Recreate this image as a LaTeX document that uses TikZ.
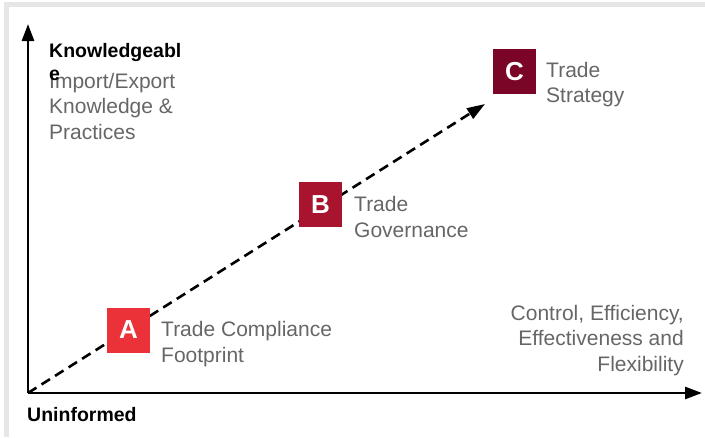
\documentclass[tikz,border=0pt]{standalone}
\usepackage{fontspec}
\setmainfont{Liberation Sans}
\usetikzlibrary{arrows.meta}

\definecolor{gradeA}{HTML}{EA3238}
\definecolor{gradeB}{HTML}{A8142E}
\definecolor{gradeC}{HTML}{7A0527}
\definecolor{noteGray}{HTML}{666666}
\definecolor{frameGray}{HTML}{E6E6E6}

\tikzset{
  axis/.style={line width=2.6pt, -{Triangle[length=17pt,width=12pt]}},
  trend/.style={line width=2.6pt, dash pattern=on 10pt off 6pt, -{Triangle[length=18pt,width=12pt]}},
  grade/.style={minimum width=43pt, minimum height=45pt, inner sep=0pt, text=white,
    font=\fontsize{26}{26}\selectfont\bfseries},
  note/.style={text=noteGray, inner sep=0pt, align=left, font=\fontsize{21}{25.5}\selectfont},
  axislabel/.style={inner sep=0pt, align=left, font=\fontsize{19.5}{22.5}\selectfont\bfseries},
  frameline/.style={draw=frameGray, line width=5pt}
}

\begin{document}
\begin{tikzpicture}[x=1pt,y=-1pt]
    \useasboundingbox (0,0) rectangle (705,437);
    \draw[frameline] (6.5,437) |- (705,4.5);

    \coordinate (Origin) at (28,393);
    \coordinate (YEnd) at (28,24);
    \coordinate (XEnd) at (702,393);
    \coordinate (TrendEnd) at (485,104);

    \path [axis] (Origin) edge (YEnd);
    \path [axis] (Origin) edge (XEnd);
    \path [trend] (Origin) edge (TrendEnd);

    \node[grade, fill=gradeA] (GradeA) at (128.5,330) {A};
    \node[grade, fill=gradeB] (GradeB) at (320.5,204.5) {B};
    \node[grade, fill=gradeC] (GradeC) at (514.5,71.5) {C};

    % base anchor sits on the last line
    \node[note, anchor=base west] (Footprint) at (161,362.2) {Trade Compliance\\Footprint};
    \node[note, anchor=base west] (Governance) at (354,237.2) {Trade\\Governance};
    \node[note, anchor=base west] (Strategy) at (546,102.8) {Trade\\Strategy};
    \node[note, anchor=base east, align=right] (Benefits) at (684,371) {Control, Efficiency,\\Effectiveness and\\Flexibility};
    \node[note, anchor=base west] (Practices) at (49,139) {Import/Export\\Knowledge \&\\Practices};

    \node[axislabel, anchor=base west] (Knowledgeable) at (49,80.2) {Knowledgeabl\\e};
    \node[axislabel, anchor=base west] (Uninformed) at (27,421) {Uninformed};
\end{tikzpicture}
\end{document}
